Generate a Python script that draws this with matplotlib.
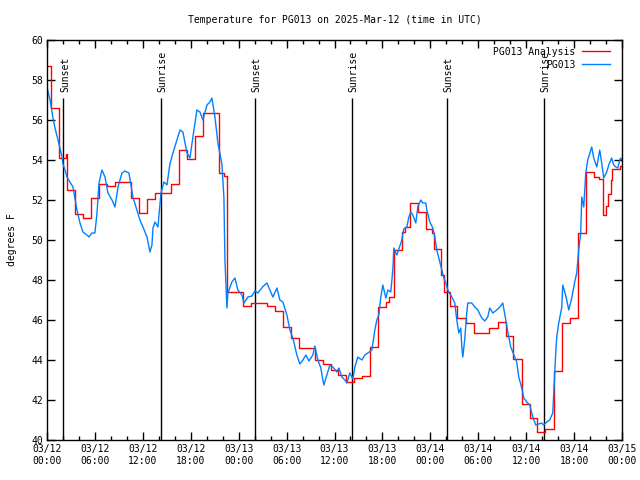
import matplotlib
matplotlib.use('Agg')
import matplotlib.pyplot as plt
from matplotlib.ticker import MultipleLocator

# analysis (red), step changes: hours since 03/12 00:00 UTC, deg F
ana_t = [0.0, 0.5, 1.5, 2.4, 2.5, 3.5, 4.5, 5.5, 6.5, 7.5, 8.5, 10.5, 11.5, 12.5,
         13.5, 15.5, 16.5, 17.5, 18.5, 19.5, 21.5, 22.2, 22.5, 24.5, 25.5, 27.5,
         28.5, 29.5, 30.5, 31.5, 33.5, 34.5, 35.5, 36.5, 37.5, 38.5, 39.5, 40.5,
         41.5, 42.5, 42.8, 43.5, 44.5, 44.8, 45.5, 46.5, 47.5, 48.2, 48.5, 49.3,
         49.7, 50.5, 51.4, 52.5, 53.5, 55.4, 56.5, 57.5, 58.4, 59.5, 60.5, 61.4,
         62.4, 63.5, 64.5, 65.5, 66.5, 67.5, 68.5, 69.1, 69.6, 70.0, 70.3, 70.6,
         70.8, 71.8, 72.0]
ana_v = [58.7, 56.6, 54.1, 54.3, 52.5, 51.3, 51.1, 52.1, 52.8, 52.7, 52.9, 52.1, 51.35, 52.05,
         52.35, 52.8, 54.5, 54.05, 55.2, 56.35, 53.35, 53.2, 47.4, 46.7, 46.85, 46.7,
         46.45, 45.65, 45.1, 44.6, 44.0, 43.8, 43.5, 43.25, 42.9, 43.1, 43.2, 44.65,
         46.65, 46.9, 47.15, 49.5, 50.4, 50.65, 51.85, 51.4, 50.55, 50.35, 49.55, 48.25,
         47.4, 46.7, 46.1, 45.85, 45.35, 45.6, 45.9, 45.2, 44.05, 41.8, 41.1, 40.4,
         40.55, 43.45, 45.85, 46.1, 50.35, 53.4, 53.15, 53.05, 51.25, 51.7, 52.3, 53.0,
         53.55, 53.7, 53.7]

# observations (blue)
obs_t = [0.0, 0.13, 0.38, 0.63, 0.75, 1.0, 1.38, 1.88, 2.0, 2.25, 2.5, 2.88, 3.25, 3.75,
         4.13, 4.5, 5.0, 5.26, 5.63, 6.0, 6.26, 6.51, 6.88, 7.26, 7.63, 8.14, 8.51, 8.89,
         9.39, 9.76, 10.26, 10.76, 11.26, 11.64, 12.02, 12.52, 12.89, 13.14, 13.27, 13.52,
         13.89, 14.27, 14.64, 15.02, 15.39, 15.77, 16.27, 16.65, 17.02, 17.52, 17.9, 18.27,
         18.77, 19.15, 19.52, 20.03, 20.4, 20.65, 21.03, 21.4, 21.9, 22.15, 22.28, 22.4,
         22.53, 22.65, 23.15, 23.53, 23.9, 24.41, 24.66, 25.16, 25.66, 26.03, 26.41, 27.03,
         27.53, 27.91, 28.29, 28.79, 29.16, 29.54, 30.04, 30.41, 30.79, 31.29, 31.66, 32.04,
         32.42, 32.79, 33.29, 33.54, 33.92, 34.29, 34.54, 34.67, 35.04, 35.42, 35.79, 36.3,
         36.55, 36.92, 37.3, 37.55, 37.92, 38.3, 38.55, 38.92, 39.42, 39.8, 40.18, 40.68,
         41.05, 41.3, 41.55, 41.8, 42.05, 42.43, 42.68, 43.05, 43.3, 43.43, 43.8, 44.06,
         44.43, 44.68, 45.06, 45.31, 45.56, 45.81, 46.18, 46.43, 46.81, 47.06, 47.43, 47.56,
         47.94, 48.31, 48.56, 48.81, 49.19, 49.44, 49.69, 49.94, 50.19, 50.69, 51.06, 51.31,
         51.56, 51.81, 51.94, 52.07, 52.32, 52.57, 52.69, 53.19, 53.57, 53.94, 54.44, 54.82,
         55.19, 55.44, 55.82, 56.32, 56.7, 57.07, 57.45, 57.7, 58.07, 58.32, 58.82, 59.07,
         59.45, 59.7, 60.08, 60.45, 60.83, 61.2, 61.58, 61.95, 62.2, 62.58, 62.95, 63.33,
         63.58, 63.7, 63.83, 64.08, 64.46, 64.58, 64.83, 65.08, 65.33, 65.71, 66.08, 66.33,
         66.58, 66.83, 66.96, 67.21, 67.46, 67.71, 68.21, 68.46, 68.84, 69.21, 69.46, 69.71,
         70.09, 70.34, 70.71, 70.96, 71.22, 71.47, 71.72, 71.84, 72.0]
obs_v = [57.65, 57.4, 57.0, 56.4, 56.1, 55.6, 55.0, 54.15, 53.8, 53.5, 53.15, 52.9, 52.65, 51.5,
         50.85, 50.4, 50.25, 50.15, 50.35, 50.35, 51.35, 52.85, 53.5, 53.15, 52.35, 52.0, 51.65, 52.65,
         53.35, 53.45, 53.35, 52.15, 51.5, 51.0, 50.65, 50.15, 49.4, 49.75, 50.6, 50.9,
         50.65, 52.35, 52.9, 52.75, 53.8, 54.35, 55.0, 55.5, 55.4, 54.35, 54.1, 55.15,
         56.5, 56.4, 56.0, 56.75, 56.9, 57.1, 56.15, 54.85, 53.8, 52.15, 49.0, 47.9,
         46.6, 47.35, 47.9, 48.1, 47.5, 47.25, 46.85, 47.15, 47.2, 47.45, 47.35, 47.67,
         47.85, 47.5, 47.15, 47.6, 47.0, 46.9, 46.25, 45.5, 45.1, 44.25, 43.8, 44.0,
         44.25, 43.95, 44.25, 44.7, 44.0, 43.6, 43.0, 42.75, 43.25, 43.75, 43.65, 43.4,
         43.6, 43.15, 43.0, 42.85, 43.35, 43.05, 43.65, 44.15, 44.0, 44.25, 44.35, 44.5,
         45.5, 46.0, 46.25, 47.15, 47.75, 47.1, 47.5, 47.4, 48.5, 49.6, 49.25, 49.55,
         50.0, 50.55, 50.65, 51.15, 51.4, 51.25, 50.85, 51.65, 52.0, 51.85, 51.85, 51.5,
         50.9, 50.6, 50.15, 49.5, 48.9, 48.5, 48.1, 47.85, 47.5, 47.15, 46.85, 46.0,
         45.35, 45.6, 44.65, 44.15, 45.1, 46.4, 46.85, 46.85, 46.65, 46.5, 46.1, 45.95,
         46.15, 46.6, 46.35, 46.5, 46.65, 46.85, 46.0, 45.4, 44.65, 44.4, 43.9, 43.15,
         42.6, 42.1, 41.9, 41.75, 41.15, 40.75, 40.8, 40.85, 40.75, 40.9, 41.0, 41.35,
         43.4, 44.35, 45.15, 45.85, 46.65, 47.75, 47.4, 47.0, 46.5, 47.1, 47.9, 48.35,
         49.5, 50.35, 52.15, 51.65, 53.35, 54.0, 54.65, 54.1, 53.65, 54.5, 53.85, 53.1,
         53.4, 53.75, 54.1, 53.75, 53.65, 53.6, 54.0, 54.1, 54.0]

sun_t = [2.05, 14.27, 26.03, 38.2, 50.06, 62.2]
sun_lab = ['Sunset', 'Sunrise', 'Sunset', 'Sunrise', 'Sunset', 'Sunrise']

tick_labels = ['03/12\n00:00', '03/12\n06:00', '03/12\n12:00', '03/12\n18:00',
               '03/13\n00:00', '03/13\n06:00', '03/13\n12:00', '03/13\n18:00',
               '03/14\n00:00', '03/14\n06:00', '03/14\n12:00', '03/14\n18:00',
               '03/15\n00:00']

plt.rcParams['font.family'] = 'DejaVu Sans Mono'
plt.rcParams['font.size'] = 7

fig = plt.figure(figsize=(6.4, 4.8), dpi=100)
ax = fig.add_axes([47/640, 40/480, 575/640, 400/480])

# sunrise / sunset markers
for t, lab in zip(sun_t, sun_lab):
    ax.vlines(t, 40, 57.1, color='black', lw=1.0)
    ax.text(t + 0.2, 57.4, lab, rotation=90, ha='center', va='bottom', fontsize=7)

ax.plot(ana_t, ana_v, color='#ff0000', lw=1.0, drawstyle='steps-post', label='PG013 Analysis')
ax.plot(obs_t, obs_v, color='#0080ff', lw=1.0, label='PG013')

ax.set_xlim(0, 72)
ax.set_ylim(40, 60)
ax.set_xticks(range(0, 73, 6))
ax.set_xticklabels(tick_labels)
ax.xaxis.set_minor_locator(MultipleLocator(2))
ax.yaxis.set_major_locator(MultipleLocator(2))
ax.tick_params(which='both', direction='in', top=True, right=True, width=1.0, pad=3)
ax.tick_params(which='major', length=6)
ax.tick_params(which='minor', length=3)
for s in ax.spines.values():
    s.set_linewidth(1.0)

ax.set_ylabel('degrees F', labelpad=10)
ax.set_title('Temperature for PG013 on 2025-Mar-12 (time in UTC)', fontsize=7, pad=12)

ax.legend(loc='upper right', frameon=False, markerfirst=False, handlelength=2.9,
          handletextpad=0.7, labelspacing=0.3, borderaxespad=0.3, fontsize=7,
          bbox_to_anchor=(0.9913, 1.0))

fig.savefig('out.png', dpi=100)
